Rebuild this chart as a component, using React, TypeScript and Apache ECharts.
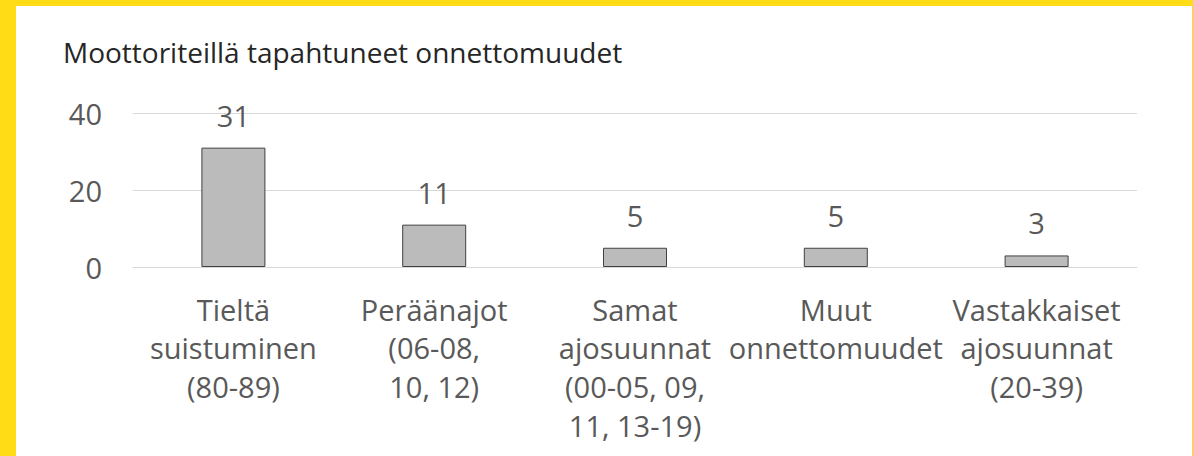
import React, { useEffect, useRef } from "react";
import * as echarts from "echarts";

const title = "Moottoriteillä tapahtuneet onnettomuudet";
const categories = [
  "Tieltä\nsuistuminen\n(80-89)",
  "Peräänajot\n(06-08,\n10, 12)",
  "Samat\najosuunnat\n(00-05, 09,\n11, 13-19)",
  "Muut\nonnettomuudet",
  "Vastakkaiset\najosuunnat\n(20-39)",
];
const values = [31, 11, 5, 5, 3];
const yTicks = { min: 0, max: 40, interval: 20 };

const FONT = "'Open Sans', 'Noto Sans', sans-serif";

export default function App() {
  const ref = useRef<HTMLDivElement>(null);
  useEffect(() => {
    if (!ref.current) return;
    const chart = echarts.init(ref.current, undefined, { renderer: "svg" });
    chart.setOption({
      animation: false,
      backgroundColor: "#FFDC16",
      textStyle: { fontFamily: FONT },
      graphic: [
        {
          type: "rect",
          shape: { x: 16, y: 6, width: 1176, height: 460 },
          style: { fill: "#FFFFFF" },
          z: -10,
          silent: true,
        },
        {
          type: "text",
          x: 63,
          y: 52,
          style: {
            text: title,
            fill: "#262626",
            fontSize: 28,
            fontFamily: FONT,
            verticalAlign: "middle",
            align: "left",
          },
        },
      ],
      grid: { left: 133, right: 56, top: 113, bottom: 189, containLabel: false },
      xAxis: {
        type: "category",
        data: categories,
        axisLine: { show: true, lineStyle: { color: "#D9D9D9", width: 1 } },
        axisTick: { show: false },
        axisLabel: {
          interval: 0,
          color: "#595959",
          fontSize: 29,
          fontFamily: FONT,
          lineHeight: 38.6,
          margin: 23,
          align: "center",
        },
      },
      yAxis: {
        type: "value",
        min: yTicks.min,
        max: yTicks.max,
        interval: yTicks.interval,
        axisLine: { show: false },
        axisTick: { show: false },
        splitLine: { lineStyle: { color: "#D9D9D9", width: 1 } },
        axisLabel: {
          color: "#595959",
          fontSize: 29,
          fontFamily: FONT,
          margin: 31,
        },
      },
      series: [
        {
          type: "bar",
          data: values,
          barWidth: 64,
          itemStyle: { color: "#BBBBBB", borderColor: "#404040", borderWidth: 1 },
          label: {
            show: true,
            position: "top",
            distance: 18,
            color: "#595959",
            fontSize: 29,
            fontFamily: FONT,
          },
        },
      ],
    });
    return () => chart.dispose();
  }, []);
  return (
    <div
      ref={ref}
      style={{ position: "fixed", left: 0, top: 0, width: 1193, height: 456 }}
    />
  );
}
